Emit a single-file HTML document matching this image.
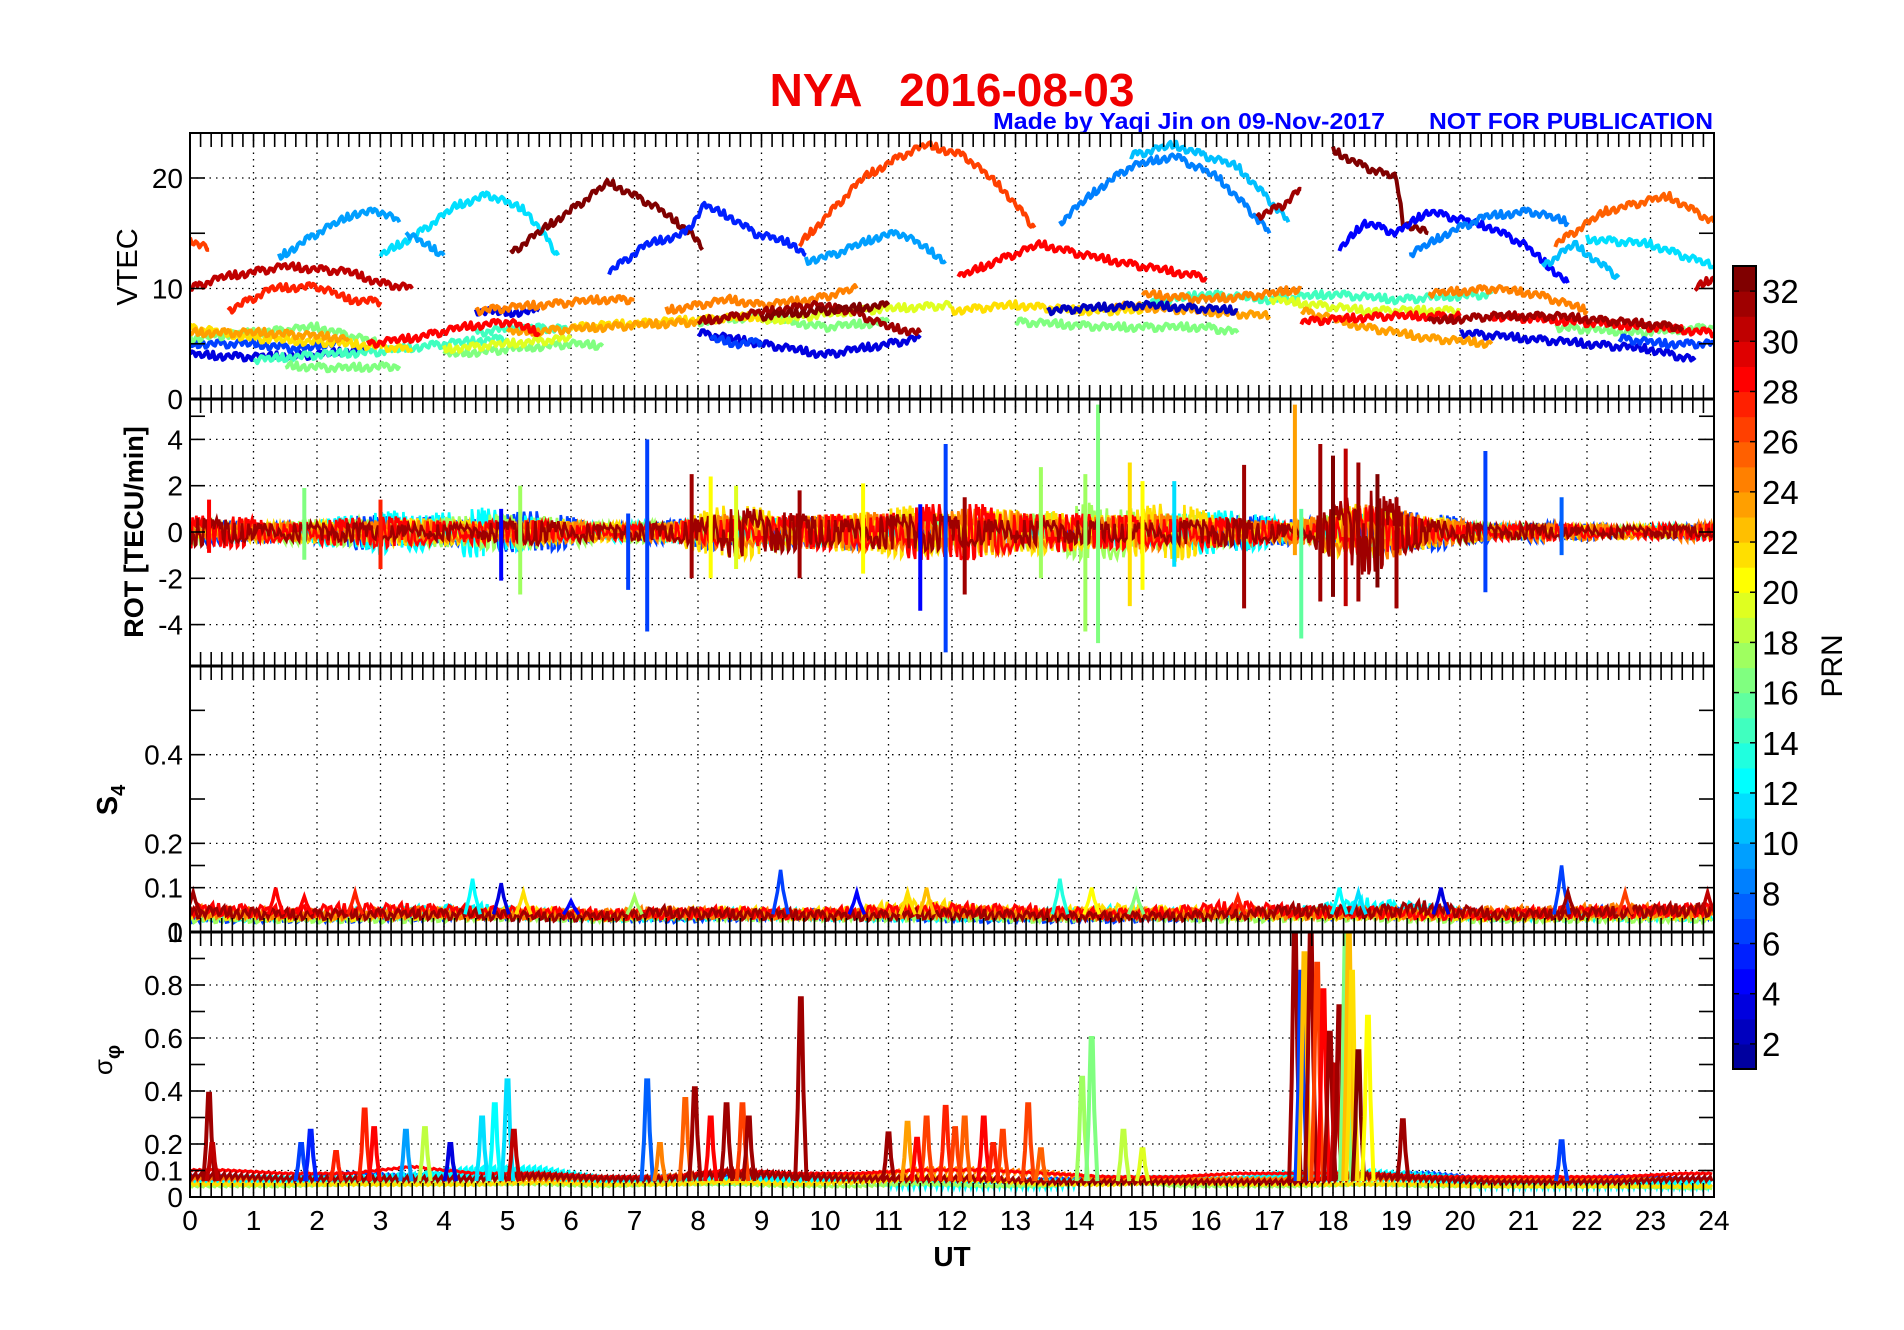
<!DOCTYPE html>
<html><head><meta charset="utf-8"><title>NYA 2016-08-03</title>
<style>
html,body{margin:0;padding:0;background:#fff;}
svg{display:block;font-family:"Liberation Sans",Arial,sans-serif;}
</style></head>
<body>
<svg id="fig" width="1904" height="1330" viewBox="0 0 1904 1330" xmlns="http://www.w3.org/2000/svg">
<rect x="0" y="0" width="1904" height="1330" fill="#fff"/>
<text x="952" y="106" text-anchor="middle" font-size="46" font-weight="bold" fill="#f00000" xml:space="preserve">NYA   2016-08-03</text>
<text x="993" y="129" font-size="23" font-weight="bold" fill="#0000ff" textLength="392" lengthAdjust="spacingAndGlyphs">Made by Yaqi Jin on 09-Nov-2017</text>
<text x="1429" y="129" font-size="23" font-weight="bold" fill="#0000ff" textLength="284" lengthAdjust="spacingAndGlyphs">NOT FOR PUBLICATION</text>
<g id="layers"></g>
</svg>
<script>
// ---------------- DATA ----------------
const xTicks = [0,1,2,3,4,5,6,7,8,9,10,11,12,13,14,15,16,17,18,19,20,21,22,23,24];
const vtecTicks = [0,10,20];
const rotTicks = [-4,-2,0,2,4];
const s4Ticks = [0.1,0.2,0.4];
const sigTicks = [0,0.1,0.2,0.4,0.6,0.8];
const prnTicks = [2,4,6,8,10,12,14,16,18,20,22,24,26,28,30,32];

const vtecPRN = [26,30,27,9,11,9,32,5,9,26,28,8,10,31,32,4,8,10,25,11,30,
  3,3,3,3,6,6,14,14,14,16,16,16,16,16,16,19,19,19,21,21,21,23,23,23,23,24,24,24,24,28,28,28,31,31,32,6,2];
const vtecT = [
 [0,0.3],[0,0.5,1.5,2.5,3,3.5],[0.6,1.3,2,2.5,3],[1.4,2,2.6,3,3.3],[3,3.6,4.2,4.7,5.3,5.8],[3.4,3.7,4],
 [5.05,5.6,6.1,6.6,7.3,7.9,8.07],[6.6,7.2,7.8,8.1,8.5,8.9,9.5,9.7],[9.7,10.1,10.9,11.2,11.9],
 [9.6,10.1,10.6,11.2,11.6,12.2,12.8,13.3],[12.1,12.7,13.4,14.1,15,16],[13.7,14.3,14.8,15.5,16.2,16.7,17],
 [14.8,15.5,16.5,17,17.3],[16.8,17.2,17.5],[18,18.5,19,19.1,19.5],[18.1,18.5,19,19.5,20.5,21,21.7],
 [19.2,19.8,20.4,21.1,21.7],[21.3,21.8,22.5],[21.5,22.3,23,23.3,24],[22,23,24],[23.7,24],
 [0,1,2,2.8],[4.5,5,5.5],[8,9,9.5,10,10.5,11.5],[20,21,22,23,23.7],
 [0,1,1.8,2.5],[8.2,8.6,9],[1,2,3,4,5],[4.5,5.2,6],[15,16,17,18,19,20.5],
 [0,1,2,3],[1.5,2.4,3.3],[4,5,6,6.5],[8,9,10,11],[13,14.5,16,16.5],[21.5,22.8,24],
 [4,5,6],[9,10.5,12],[17,18.5,20],[0,1,2.5,3.5],[6,7.5,9],[12,13,14,15],
 [0,1.2,2.5],[5,6.5,8],[14.5,15.8,17],[17.5,18.5,19.5,20.5],
 [4.5,5.5,6.5,7],[7.5,8.5,9,9.8,10.5],[15,16,17,17.5],[19.5,20.5,21.2,22],
 [2.8,3.5,4.3,5,5.5],[17.5,18.8,20],[20.5,21.8,23,24],
 [8,8.6,9.2,9.8,10.4,11,11.5],[19.5,20.5,21.5,22.5,23.5],[9,10,11],[22.5,23.2,24],[13.5,15,16.5]
];
const vtecV = [
 [14.5,13.5],[10,11,12,11.5,10.5,10],[8,10,10.2,9,8.8],[12.8,15,16.8,17,16],[13,15,17.5,18.5,17,13],[15,14,13],
 [13.2,15.5,17.5,19.6,17.5,15,13.5],[11.5,14,15,17.5,16.5,15,14,13],[12.5,13,14.8,15,12.5],
 [14,17,20,22,23,22,19,15.5],[11,12.5,14,13,12,11],[16,19,21,22,20,17,15],
 [22,23,21,18,16],[16.5,17.5,19],[22.5,21,20,16,15],[13.5,16,15,17,15.5,14,10.5],
 [13,15,16.5,17,16],[12,14,11],[14,17,18,18.3,16],[14.5,14,12],[10,11],
 [4,3.8,4,4.5],[8,7.8,8],[6,5,4.5,4,4.5,5.5],[6,5.5,5,4.5,3.5],
 [5,5,4.5,5.5],[5.5,5,5.2],[3.5,4,4.3,5,5.5],[6,6.5,6.3],[8.5,9.5,9,9.5,9,9.5],
 [5.5,6,6.5,5],[3,2.8,3],[4,4.5,5,4.8],[7,7.5,6.5,7],[7,6.5,6.5,6],[6.5,6,6.5],
 [4.5,5,5.5],[7,8,8.5],[9,8,8],[6.5,5.5,5,4.5],[6.5,7,7.5],[8,8.5,8,8],
 [6,6,5.5],[6,6.5,7],[8.5,8,7.5],[8,6.5,5.5,5],
 [8,8.5,9,9],[8,9,8.5,9,10],[9.5,9,9.5,10],[9.5,10,9.5,8],
 [5,5.5,6.5,7,6],[7,7.5,7.5],[7.5,7,6.5,6],
 [7,7.5,8,8.5,8,6.5,6],[7,7.5,7.5,7,6.5],[7.5,8,8.5],[5.5,5,5],[8,8.5,8]
];

const rotLayerPRN = [6,12,17,21,24,28,31];
const rotAmp = [
 [0.5,0.4,0.8,0.6,0.8,0.9,0.4,0.5,0.8,0.6,0.7,0.8,0.5,0.3,0.4,0.5,0.8,0.5,1.0,0.8,0.5,0.4,0.3,0.3],
 [0.4,0.5,0.7,1.0,1.1,0.6,0.4,0.4,0.6,0.6,0.5,0.4,0.5,0.4,0.5,1.0,0.9,0.4,0.8,0.6,0.3,0.2,0.2,0.3],
 [0.5,0.5,0.6,0.6,0.7,0.9,0.4,0.5,0.7,0.7,0.6,0.8,0.8,0.8,1.5,0.8,0.6,0.4,1.2,0.6,0.3,0.3,0.2,0.3],
 [0.4,0.4,0.5,0.6,0.5,0.5,0.4,0.5,1.2,0.9,0.8,1.2,1.0,0.9,0.9,1.3,0.5,0.4,1.5,0.7,0.3,0.3,0.3,0.3],
 [0.4,0.4,0.5,0.5,0.5,0.5,0.4,0.4,0.8,0.7,0.8,1.0,1.0,0.8,0.7,0.8,0.5,0.5,1.5,0.6,0.4,0.4,0.3,0.4],
 [0.7,0.5,0.6,0.7,0.5,0.5,0.35,0.35,0.8,0.7,0.8,1.2,1.2,0.9,0.7,0.8,0.6,0.35,1.2,0.5,0.35,0.35,0.25,0.35],
 [0.6,0.4,0.4,0.4,0.3,0.7,0.3,0.4,1.1,0.8,0.7,0.8,0.7,0.5,0.5,0.5,0.6,0.4,1.9,0.7,0.3,0.3,0.25,0.25]
];
const rotSpikeT   = [7.2,11.9,14.3,14.1,17.4,17.5,16.6,17.8,18.0,18.2,18.4,18.7,19.0,20.4,9.6,14.8,15.0,7.9,4.9,5.2,6.9,11.5,12.2,15.5,8.2,8.6,10.6,13.4,3.0,1.8,21.6,0.3];
const rotSpikeMin = [-4.3,-5.2,-4.8,-4.3,-1,-4.6,-3.3,-3.0,-2.8,-3.2,-3.0,-2.4,-3.3,-2.6,-2.0,-3.2,-2.5,-2.0,-2.1,-2.7,-2.5,-3.4,-2.7,-1.5,-2.0,-1.6,-1.8,-2.0,-1.6,-1.2,-1.0,-0.9];
const rotSpikeMax = [4.0,3.8,5.5,2.5,5.5,1.0,2.9,3.8,3.3,3.6,3.0,2.5,1.5,3.5,1.8,3.0,2.2,2.5,1.0,2.0,0.8,1.2,1.5,2.2,2.4,2.0,2.1,2.8,1.4,1.9,1.5,1.4];
const rotSpikePRN = [6,6,16,17,23,15,31,31,32,30,31,32,31,6,31,21,20,31,4,17,6,4,31,11,20,19,20,17,27,16,7,28];

const s4LayerPRN = [6,12,17,21,24,28,31];
const s4Base = [
 [0.03,0.03,0.03,0.035,0.04,0.04,0.035,0.03,0.035,0.04,0.04,0.035,0.03,0.03,0.03,0.035,0.04,0.04,0.04,0.045,0.035,0.04,0.045,0.04],
 [0.035,0.035,0.04,0.045,0.05,0.04,0.035,0.035,0.04,0.04,0.035,0.035,0.035,0.04,0.045,0.04,0.04,0.045,0.06,0.05,0.035,0.035,0.035,0.035],
 [0.03,0.03,0.03,0.03,0.035,0.035,0.03,0.04,0.035,0.035,0.035,0.035,0.035,0.03,0.04,0.035,0.03,0.035,0.035,0.03,0.03,0.03,0.03,0.03],
 [0.04,0.035,0.035,0.04,0.04,0.045,0.035,0.04,0.045,0.04,0.045,0.06,0.045,0.04,0.05,0.045,0.04,0.04,0.04,0.04,0.035,0.035,0.04,0.04],
 [0.045,0.04,0.04,0.045,0.04,0.04,0.04,0.045,0.04,0.04,0.04,0.045,0.045,0.04,0.04,0.04,0.045,0.04,0.045,0.04,0.045,0.045,0.05,0.045],
 [0.05,0.045,0.05,0.05,0.045,0.045,0.04,0.04,0.045,0.04,0.045,0.05,0.05,0.045,0.04,0.045,0.055,0.045,0.045,0.04,0.04,0.045,0.045,0.05],
 [0.045,0.04,0.04,0.04,0.04,0.035,0.035,0.045,0.04,0.04,0.035,0.04,0.04,0.035,0.035,0.035,0.04,0.05,0.045,0.055,0.04,0.04,0.045,0.05]
];
const s4SpikeT    = [0.05,1.35,1.8,2.6,4.45,4.9,5.25,6.0,7.0,9.3,10.5,11.3,11.6,13.7,14.2,14.9,16.5,18.1,18.4,19.7,21.6,21.7,22.6,23.9];
const s4SpikeV    = [0.09,0.10,0.08,0.09,0.12,0.11,0.09,0.07,0.08,0.14,0.09,0.09,0.10,0.12,0.10,0.09,0.08,0.10,0.09,0.10,0.15,0.09,0.09,0.09];
const s4SpikePRN  = [31,28,28,27,12,3,21,4,17,6,4,21,22,13,20,16,27,12,11,3,6,31,26,30];

const sigLayerPRN = [6,12,17,21,24,28,31];
const sigBase = [
 [0.07,0.06,0.08,0.07,0.08,0.07,0.06,0.07,0.07,0.06,0.06,0.06,0.05,0.06,0.06,0.06,0.06,0.07,0.07,0.08,0.06,0.06,0.07,0.06],
 [0.06,0.06,0.06,0.07,0.09,0.09,0.06,0.06,0.06,0.06,0.06,0.05,0.05,0.05,0.06,0.06,0.06,0.08,0.08,0.07,0.05,0.05,0.05,0.05],
 [0.05,0.05,0.06,0.06,0.06,0.06,0.05,0.06,0.06,0.05,0.05,0.06,0.05,0.05,0.08,0.05,0.05,0.05,0.06,0.05,0.05,0.05,0.05,0.04],
 [0.06,0.06,0.06,0.06,0.06,0.07,0.06,0.06,0.07,0.06,0.07,0.09,0.08,0.06,0.06,0.07,0.06,0.06,0.06,0.06,0.05,0.05,0.05,0.05],
 [0.06,0.06,0.06,0.06,0.06,0.06,0.06,0.07,0.08,0.07,0.07,0.09,0.09,0.08,0.06,0.06,0.06,0.06,0.06,0.06,0.06,0.06,0.06,0.06],
 [0.08,0.07,0.07,0.09,0.07,0.07,0.06,0.06,0.08,0.07,0.07,0.08,0.08,0.07,0.06,0.06,0.07,0.07,0.07,0.06,0.06,0.06,0.06,0.07],
 [0.07,0.06,0.06,0.06,0.06,0.07,0.06,0.06,0.08,0.07,0.06,0.06,0.06,0.05,0.05,0.05,0.05,0.05,0.07,0.06,0.05,0.05,0.05,0.06]
];
const sigSpikeT   = [0.3,0.35,1.75,1.9,2.3,2.75,2.9,3.4,3.7,4.1,4.6,4.8,5.0,5.1,7.2,7.4,7.8,7.95,8.2,8.45,8.7,8.8,9.62,11.0,11.3,11.6,11.9,12.2,12.5,12.8,13.2,13.4,14.05,14.2,14.7,15.0,17.4,17.5,17.55,17.65,17.75,17.85,17.95,18.05,18.1,18.2,18.25,18.3,18.4,18.55,19.1,21.6,11.45,12.05,12.65];
const sigSpikeV   = [0.39,0.2,0.2,0.25,0.17,0.33,0.26,0.25,0.26,0.2,0.3,0.35,0.44,0.25,0.44,0.2,0.37,0.41,0.3,0.35,0.35,0.3,0.75,0.24,0.28,0.3,0.34,0.3,0.3,0.25,0.35,0.18,0.45,0.6,0.25,0.18,1.0,0.85,0.92,1.0,0.88,0.78,0.62,0.5,0.72,1.0,1.0,0.85,0.55,0.68,0.29,0.21,0.22,0.26,0.2];
const sigSpikePRN = [31,30,6,5,27,27,28,9,18,3,11,12,11,30,7,24,25,31,28,31,26,31,31,31,23,26,27,25,28,26,26,25,17,16,18,19,31,6,22,31,26,28,31,30,31,16,22,21,32,20,31,6,28,26,27];

// ---------------- RENDER ----------------
const NS = 'http://www.w3.org/2000/svg';
const root = document.getElementById('layers');
const X0 = 190, X1 = 1714;
const xS = t => X0 + t * (X1 - X0) / 24;
const panels = {
  vtec: {top:133, bot:399, y: v => 399 - v * 11.05},
  rot:  {top:399, bot:666, y: v => 532 - v * 23.15},
  s4:   {top:666, bot:932, y: v => 932 - v * 443.3},
  sig:  {top:932, bot:1197, y: v => 1197 - v * 265}
};
const jig = [0.3,-0.8,0.9,-0.2,0.6,-1,0.1,0.7,-0.5,1,-0.9,0.4,-0.3,0.8,-0.6,0.2,-1,0.5,0.9,-0.4,0,-0.7,0.6,-0.1,1,-0.8,0.3,-0.5,0.7,-0.9,0.2,0.5,-0.3];

function jet(k){
  const u=[];
  for(let i=1;i<=8;i++)u.push(i/8);
  for(let i=0;i<7;i++)u.push(1);
  for(let i=8;i>=1;i--)u.push(i/8);
  const b = (k>=1&&k<=19)?u[k+3]:0;
  const g = (k>=5&&k<=27)?u[k-5]:0;
  const r = (k>=13&&k<=32)?u[k-13]:0;
  return 'rgb('+Math.round(r*255)+','+Math.round(g*255)+','+Math.round(b*255)+')';
}
function mk(tag, attrs, parent){
  const e=document.createElementNS(NS,tag);
  for(const k in attrs)e.setAttribute(k,attrs[k]);
  (parent||root).appendChild(e);
  return e;
}
function hourly(arr,t){
  const p=Math.min(Math.max(t-0.5,0),22.999);
  const i=Math.floor(p), f=p-i;
  return arr[i]*(1-f)+arr[Math.min(i+1,23)]*f;
}

const defs = mk('defs',{});
for(const key in panels){
  const p=panels[key];
  const cp=mk('clipPath',{id:'clip-'+key},defs);
  mk('rect',{x:X0,y:p.top,width:X1-X0,height:p.bot-p.top},cp);
}

const grid = mk('g',{});


function gridY(key, vals){
  const p=panels[key];
  vals.forEach(v=>{ const y=p.y(v); if(y>p.top+1&&y<p.bot-1) mk('line',{x1:X0,x2:X1,y1:y,y2:y,stroke:'#000','stroke-width':1.3,'stroke-dasharray':'1.5 5'},grid);});
  for(let h=1;h<24;h++) mk('line',{x1:xS(h),x2:xS(h),y1:p.top,y2:p.bot,stroke:'#000','stroke-width':1.3,'stroke-dasharray':'1.5 5'},grid);
}
gridY('vtec',vtecTicks); gridY('rot',rotTicks); gridY('s4',s4Ticks); gridY('sig',sigTicks);

const gV = mk('g',{'clip-path':'url(#clip-vtec)'});


for(let s=0;s<vtecPRN.length;s++){
  const T=vtecT[s], V=vtecV[s];
  const pts=[]; let n=0;
  for(let i=0;i<T.length-1;i++){
    const steps=Math.max(2,Math.round((T[i+1]-T[i])/0.03));
    for(let j=0;j<steps;j++){
      const f=j/steps, t=T[i]+(T[i+1]-T[i])*f, v=V[i]+(V[i+1]-V[i])*f + 0.35*jig[(n*5+s*3)%jig.length];
      pts.push(xS(t).toFixed(1)+','+panels.vtec.y(v).toFixed(1)); n++;
    }
  }
  pts.push(xS(T[T.length-1]).toFixed(1)+','+panels.vtec.y(V[V.length-1]).toFixed(1));
  const pl=mk('polyline',{points:pts.join(' '),fill:'none',stroke:jet(vtecPRN[s]),'stroke-width':4,'stroke-linejoin':'round'},gV);
  
  
}

const gR = mk('g',{'clip-path':'url(#clip-rot)'});


rotLayerPRN.forEach((prn,L)=>{
  const pts=[]; let i=0;
  for(let t=0;t<=24;t+=0.02,i++){
    const v=hourly(rotAmp[L],t)*jig[(i*13+L*5+Math.floor(i/7))%jig.length];
    pts.push(xS(t).toFixed(1)+','+panels.rot.y(v).toFixed(1));
  }
  const pl=mk('polyline',{points:pts.join(' '),fill:'none',stroke:jet(prn),'stroke-width':2.6},gR);
  
  
});
rotSpikeT.forEach((t,i)=>{
  const ln=mk('line',{x1:xS(t),x2:xS(t),y1:panels.rot.y(rotSpikeMin[i]),y2:panels.rot.y(rotSpikeMax[i]),stroke:jet(rotSpikePRN[i]),'stroke-width':4},gR);
  
  
});

const gS = mk('g',{'clip-path':'url(#clip-s4)'});


s4LayerPRN.forEach((prn,L)=>{
  const pts=[]; let i=0;
  for(let t=0;t<=24;t+=0.03,i++){
    const b=hourly(s4Base[L],t); const v=b+b*0.3*jig[(i*5+L*3)%jig.length];
    pts.push(xS(t).toFixed(1)+','+panels.s4.y(v).toFixed(1));
  }
  const pl=mk('polyline',{points:pts.join(' '),fill:'none',stroke:jet(prn),'stroke-width':3},gS);
  
  
});
s4SpikeT.forEach((t,i)=>{
  const b=0.04;
  const pts=[[t-0.12,b],[t-0.05,(b+s4SpikeV[i])/2],[t,s4SpikeV[i]],[t+0.04,(b+s4SpikeV[i])/1.9],[t+0.12,b]].map(p=>xS(p[0]).toFixed(1)+','+panels.s4.y(p[1]).toFixed(1));
  const pl=mk('polyline',{points:pts.join(' '),fill:'none',stroke:jet(s4SpikePRN[i]),'stroke-width':3.5},gS);
  
  
});

const gP = mk('g',{'clip-path':'url(#clip-sig)'});


sigLayerPRN.forEach((prn,L)=>{
  const pts=[]; let i=0;
  for(let t=0;t<=24;t+=0.03,i++){
    const b=hourly(sigBase[L],t); const v=b+b*0.3*jig[(i*11+L*7)%jig.length];
    pts.push(xS(t).toFixed(1)+','+panels.sig.y(v).toFixed(1));
  }
  const pl=mk('polyline',{points:pts.join(' '),fill:'none',stroke:jet(prn),'stroke-width':3},gP);
  
  
});
sigSpikeT.forEach((t,i)=>{
  const b=0.06, v=sigSpikeV[i];
  const pts=[[t-0.09,b],[t-0.05,b+(v-b)*0.4],[t-0.015,v],[t+0.015,v],[t+0.04,b+(v-b)*0.5],[t+0.09,b]].map(p=>xS(p[0]).toFixed(1)+','+panels.sig.y(p[1]).toFixed(1));
  const pl=mk('polyline',{points:pts.join(' '),fill:'none',stroke:jet(sigSpikePRN[i]),'stroke-width':4},gP);
  
  
});

const gA = mk('g',{});


for(const key in panels){
  const p=panels[key];
  mk('rect',{x:X0,y:p.top,width:X1-X0,height:p.bot-p.top,fill:'none',stroke:'#000','stroke-width':2},gA);
  for(let m=1;m<144;m++){
    const x=xS(m/6);
    mk('line',{x1:x,x2:x,y1:p.top,y2:p.top+14,stroke:'#000','stroke-width':1.6},gA);
    mk('line',{x1:x,x2:x,y1:p.bot-14,y2:p.bot,stroke:'#000','stroke-width':1.6},gA);
  }
}
[399,666,932].forEach(y=>mk('line',{x1:X0,x2:X1,y1:y,y2:y,stroke:'#000','stroke-width':3},gA));
function yTicks(key, vals, labels, minor){
  const p=panels[key];
  vals.concat(minor).forEach(v=>{const y=p.y(v);
    mk('line',{x1:X0,x2:X0+15,y1:y,y2:y,stroke:'#000','stroke-width':1.6},gA);
    mk('line',{x1:X1-15,x2:X1,y1:y,y2:y,stroke:'#000','stroke-width':1.6},gA);});
  labels.forEach(v=>{
    const tx=mk('text',{x:183,y:p.y(v)+10,'text-anchor':'end','font-size':28,fill:'#000'},gA);
    tx.textContent=String(v);
    
    
  });
}
yTicks('vtec',vtecTicks,vtecTicks,[5,15]);
yTicks('rot',rotTicks,rotTicks,[5]);
yTicks('s4',s4Ticks,[0].concat(s4Ticks),[0.15,0.3,0.5]);
yTicks('sig',sigTicks,sigTicks.concat([1]),[0.3,0.5,0.7,0.9]);
xTicks.forEach(h=>{
  const tx=mk('text',{x:xS(h),y:1230,'text-anchor':'middle','font-size':28,fill:'#000'},gA);
  tx.textContent=String(h);
  
  
});

const gC = mk('g',{});


const cbTop=266, cbBot=1069, cbX=1733, cbW=23, cbU=(cbBot-cbTop)/32;
const cbY = v => cbTop + (33 - v) * cbU;
for(let k=1;k<=32;k++){
  mk('rect',{x:cbX,y:cbY(k+1),width:cbW,height:cbU+0.6,fill:jet(k)},gC);
}
mk('rect',{x:cbX,y:cbTop,width:cbW,height:cbBot-cbTop,fill:'none',stroke:'#000','stroke-width':2},gC);
prnTicks.forEach(v=>{
  const y=cbY(v);
  mk('line',{x1:cbX,x2:cbX+6,y1:y,y2:y,stroke:'#000','stroke-width':1.5},gC);
  mk('line',{x1:cbX+cbW-6,x2:cbX+cbW,y1:y,y2:y,stroke:'#000','stroke-width':1.5},gC);
  const tx=mk('text',{x:1762,y:y+12,'font-size':33,fill:'#000'},gC);
  tx.textContent=String(v);
  
  
});

(function(){
  const svg=document.getElementById('fig');
  function lab(txt,x,y,size,bold,name){
    const t=document.createElementNS(NS,'text');
    t.setAttribute('x',0);t.setAttribute('y',0);
    t.setAttribute('transform','translate('+x+','+y+') rotate(-90)');
    t.setAttribute('text-anchor','middle');
    t.setAttribute('font-size',size);
    if(bold)t.setAttribute('font-weight','bold');
    t.textContent=txt;
    
    
    svg.appendChild(t);return t;
  }
  lab('VTEC',137,267,29,false,'vtec-axis-title');
  lab('ROT [TECU/min]',143,532,27,true,'rot-axis-title');
  lab('PRN',1842,666,30,false,'colorbar-title');
  const s4=lab('S',117,800,29,true,'s4-axis-title');
  const sub=document.createElementNS(NS,'tspan');sub.setAttribute('font-size',20);sub.setAttribute('dy',8);sub.textContent='4';s4.appendChild(sub);
  const sg=lab('σ',112,1060,26,false,'sigma-phi-axis-title');
  const sub2=document.createElementNS(NS,'tspan');sub2.setAttribute('font-size',20);sub2.setAttribute('font-weight','bold');sub2.setAttribute('dy',8);sub2.textContent='φ';sg.appendChild(sub2);
  const ut=document.createElementNS(NS,'text');
  ut.setAttribute('x',952);ut.setAttribute('y',1266);ut.setAttribute('text-anchor','middle');
  ut.setAttribute('font-size',28);ut.setAttribute('font-weight','bold');ut.textContent='UT';
  
  
  svg.appendChild(ut);
})();
</script>
</body></html>
